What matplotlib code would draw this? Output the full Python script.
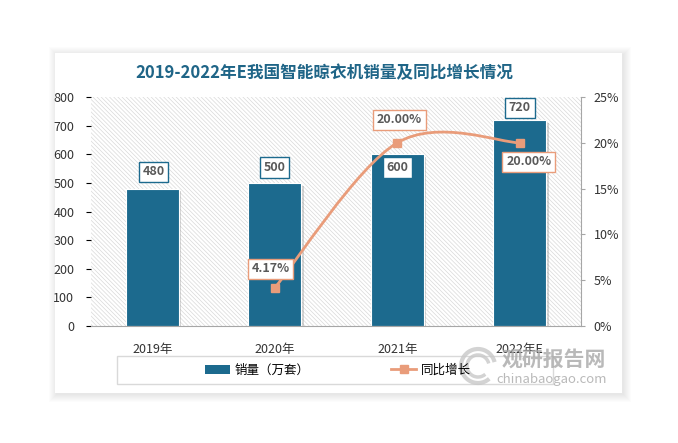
import numpy as np
import matplotlib.pyplot as plt
import matplotlib.patheffects as pe
from matplotlib.patches import Rectangle, PathPatch, Arc
from matplotlib.path import Path
from matplotlib.lines import Line2D

plt.rcParams['font.family'] = ['Noto Sans CJK SC', 'DejaVu Sans']
plt.rcParams['hatch.linewidth'] = 0.5

# Data
years = ["2019年", "2020年", "2021年", "2022年E"]
sales = [480, 500, 600, 720]
growth_years = ["2020年", "2021年", "2022年E"]
growth = [0.0417, 0.20, 0.20]
growth_labels = ["4.17%", "20.00%", "20.00%"]

bar_color = "#1c6a8e"
line_color = "#e99c7a"
text_gray = "#595959"

W, H = 678, 443
fig = plt.figure(figsize=(W / 100, H / 100), dpi=100)
fig.patch.set_facecolor("white")


def fig_rect(x0, y0, x1, y1, **kw):
    # rectangle given in pixel coords (y from top)
    r = Rectangle((x0 / W, 1 - y1 / H), (x1 - x0) / W, (y1 - y0) / H,
                  transform=fig.transFigure, **kw)
    fig.patches.append(r)
    return r


# card with soft shadow
for i in range(8, 0, -1):
    fig_rect(55 - i + 2, 53 - i + 2, 622 + i + 1, 393 + i + 1,
             facecolor="black", edgecolor="none", alpha=0.012, zorder=-20)
fig_rect(55, 53, 622, 393, facecolor="white", edgecolor="none", zorder=-19)

# legend frame
fig_rect(117, 356, 553, 384, facecolor="white", edgecolor="#d9d9d9",
         linewidth=1, zorder=-18)

ax = fig.add_axes([91 / W, 1 - 326 / H, (581 - 91) / W, (326 - 97) / H])
ax.set_facecolor("none")
ax.add_patch(Rectangle((0, 0), 1, 1, transform=ax.transAxes, facecolor="white",
                       edgecolor="#d9d9d9", hatch="\\" * 8, linewidth=0, zorder=0))

x = np.arange(len(years))
bars = ax.bar(x, sales, width=0.43, color=bar_color, edgecolor="white",
              linewidth=0.8, zorder=2)
for b in bars:
    b.set_path_effects([pe.SimplePatchShadow(offset=(2, -2), shadow_rgbFace="#888888",
                                             alpha=0.35), pe.Normal()])

ax.set_xlim(-0.5, len(years) - 0.5)
ax.set_ylim(0, 800)
ax.set_yticks(range(0, 801, 100))
ax.set_xticks(x)
ax.set_xticklabels(years)
for s in ["left", "top", "right"]:
    ax.spines[s].set_visible(False)
ax.spines["bottom"].set_color("#a6a6a6")
ax.tick_params(axis="y", left=False, pad=8.5, labelsize=9, labelcolor="#333333")
ax.tick_params(axis="x", bottom=False, pad=9, labelsize=9, labelcolor="#333333")

bar_offsets = [12, 11, -9.4, 8.6]
for xi, v, dy in zip(x, sales, bar_offsets):
    ax.annotate(str(v), (xi, v), xytext=(1 if xi == 0 else 0, dy),
                textcoords="offset points", ha="center", va="center",
                fontsize=9, fontweight="bold", color=text_gray, zorder=5,
                bbox=dict(boxstyle="square,pad=0.3", fc="white", ec=bar_color, lw=1))

ax2 = ax.twinx()
ax2.set_ylim(0, 0.25)
ax2.set_yticks(np.arange(0, 0.251, 0.05))
ax2.set_yticklabels([f"{int(round(t * 100))}%" for t in np.arange(0, 0.251, 0.05)])
for s in ["left", "top", "bottom"]:
    ax2.spines[s].set_visible(False)
ax2.spines["right"].set_color("#a6a6a6")
ax2.tick_params(axis="y", direction="out", length=3, color="#a6a6a6", pad=6,
                labelsize=9, labelcolor="#333333")

# smoothed line (Catmull-Rom style, computed in pixel space)
gx = np.array([years.index(g) for g in growth_years], dtype=float)
disp = ax2.transData.transform(np.column_stack([gx, growth]))
n = len(disp)
verts = [disp[0]]
codes = [Path.MOVETO]
for i in range(n - 1):
    p_prev = disp[i - 1] if i > 0 else disp[i]
    p0, p1 = disp[i], disp[i + 1]
    p_next = disp[i + 2] if i + 2 < n else disp[i + 1]
    verts += [p0 + (p1 - p_prev) / 6, p1 - (p_next - p0) / 6, p1]
    codes += [Path.CURVE4] * 3
data_verts = ax2.transData.inverted().transform(np.array(verts))
ax2.add_patch(PathPatch(Path(data_verts, codes), fill=False, edgecolor=line_color,
                        linewidth=2, zorder=3))
ax2.plot(gx, growth, ls="none", marker="s", markersize=6, color=line_color, zorder=4)

line_offsets = [(-3, 13.7), (1.5, 16.5), (6.5, -13.7)]
for xi, v, lab, (dx, dy) in zip(gx, growth, growth_labels, line_offsets):
    ax2.annotate(lab, (xi, v), xytext=(dx, dy), textcoords="offset points",
                 ha="center", va="center", fontsize=9, fontweight="bold",
                 color=text_gray, zorder=6,
                 bbox=dict(boxstyle="square,pad=0.3", fc="white", ec=line_color, lw=1))

# title
fig.text(324 / W, 1 - 73 / H, "2019-2022年E我国智能晾衣机销量及同比增长情况",
         ha="center", va="center", fontsize=12, fontweight="bold", color="#1f6587")

# legend
handles = [Rectangle((0, 0), 1, 1, facecolor=bar_color, edgecolor="none"),
           Line2D([], [], color=line_color, lw=2, marker="s", markersize=6)]
fig.legend(handles, ["销量（万套）", "同比增长"], loc="center",
           bbox_to_anchor=(338 / W, 1 - 370 / H), ncol=2, frameon=False,
           fontsize=9, handlelength=2.0, handletextpad=0.4, columnspacing=6.5)

# watermark
wm = "#a8a8a8"
fig.text(554 / W, 1 - 359 / H, "观研报告网", ha="center", va="center",
         fontsize=15, fontweight="bold", color=wm, alpha=0.8)
fig.text(552 / W, 1 - 379 / H, "chinabaogao.com", ha="center", va="center",
         fontsize=9.5, color=wm, alpha=0.8)
for r, lw in [(17, 3), (11, 2.5)]:
    fig.patches.append(Arc((478 / W, 1 - 366 / H), 2 * r / W, 2 * r / H, theta1=20,
                           theta2=300, transform=fig.transFigure, color="#c8c8c8",
                           lw=lw, alpha=0.8))

fig.savefig("out.png", dpi=100)
